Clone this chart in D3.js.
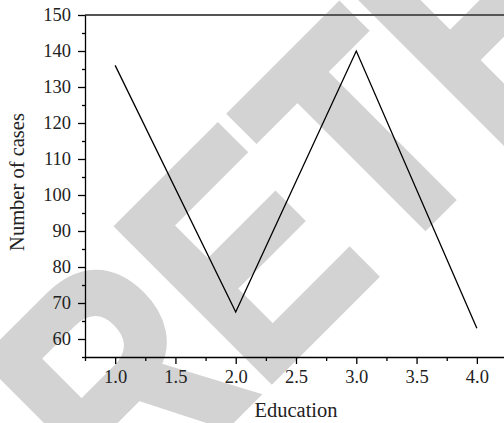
<!DOCTYPE html>
<html>
<head>
<meta charset="utf-8">
<script src="https://cdn.jsdelivr.net/npm/d3@7"></script>
<style>
  body { margin: 0; background: #fff; }
  svg { display: block; }
  .axis text { font-family: "Liberation Serif", "Times New Roman", serif; font-size: 18.5px; fill: #222; }
  .axis path, .axis line { stroke: #000; stroke-width: 1.3; }
</style>
</head>
<body>
<svg id="svg" width="504" height="423"></svg>
<script>
var education = [1, 2, 3, 4],
  cases = [136, 67.5, 140, 63],
  xTicks = [1.0, 1.5, 2.0, 2.5, 3.0, 3.5, 4.0],
  xMinor = [0.75, 1.25, 1.75, 2.25, 2.75, 3.25, 3.75, 4.25],
  yTicks = [60, 70, 80, 90, 100, 110, 120, 130, 140, 150],
  yMinor = [55, 65, 75, 85, 95, 105, 115, 125, 135, 145];

var svg = d3.select("#svg"),
  x = d3.scaleLinear().domain([0.75, 4.25]).range([85, 507]),
  y = d3.scaleLinear().domain([55, 150]).range([357, 15]);

// retraction watermark behind everything
svg.append("text")
  .attr("transform", "translate(126,525) rotate(-45) scale(0.83,1)")
  .style("font-family", "Liberation Sans, Arial, sans-serif")
  .style("font-weight", "bold")
  .style("font-size", "314px")
  .style("fill", "#d3d3d3")
  .style("stroke", "#d3d3d3")
  .style("stroke-width", 8)
  .style("stroke-linejoin", "miter")
  .text("RETRACTED");

// top frame line
svg.append("line")
  .attr("x1", 85).attr("x2", 504)
  .attr("y1", y(150)).attr("y2", y(150))
  .attr("stroke", "#555")
  .attr("stroke-width", 2);

// minor ticks
svg.append("g")
  .attr("class", "axis")
  .attr("transform", "translate(0," + y(55) + ")")
  .call(d3.axisBottom(x).tickValues(xMinor).tickSize(4).tickFormat(""))
  .select(".domain").remove();
svg.append("g")
  .attr("class", "axis")
  .attr("transform", "translate(85,0)")
  .call(d3.axisLeft(y).tickValues(yMinor).tickSize(3).tickFormat(""))
  .select(".domain").remove();

// major axes
svg.append("g")
  .attr("class", "axis")
  .attr("transform", "translate(0," + y(55) + ")")
  .call(d3.axisBottom(x).tickValues(xTicks).tickSize(7).tickSizeOuter(0).tickPadding(6).tickFormat(d3.format(".1f")));
svg.append("g")
  .attr("class", "axis")
  .attr("transform", "translate(85,0)")
  .call(d3.axisLeft(y).tickValues(yTicks).tickSize(7).tickSizeOuter(0).tickPadding(7));

// data line
svg.append("path")
  .datum(d3.zip(education, cases))
  .attr("fill", "none")
  .attr("stroke", "#000")
  .attr("stroke-width", 1.3)
  .attr("d", d3.line().x(d => x(d[0])).y(d => y(d[1])));

// axis titles
svg.append("text")
  .attr("x", 296).attr("y", 417)
  .attr("text-anchor", "middle")
  .style("font-family", "Liberation Serif, serif")
  .style("font-size", "20.5px")
  .style("fill", "#222")
  .text("Education");
svg.append("text")
  .attr("transform", "translate(24,182) rotate(-90)")
  .attr("text-anchor", "middle")
  .style("font-family", "Liberation Serif, serif")
  .style("font-size", "20.5px")
  .style("fill", "#222")
  .text("Number of cases");
</script>
</body>
</html>
